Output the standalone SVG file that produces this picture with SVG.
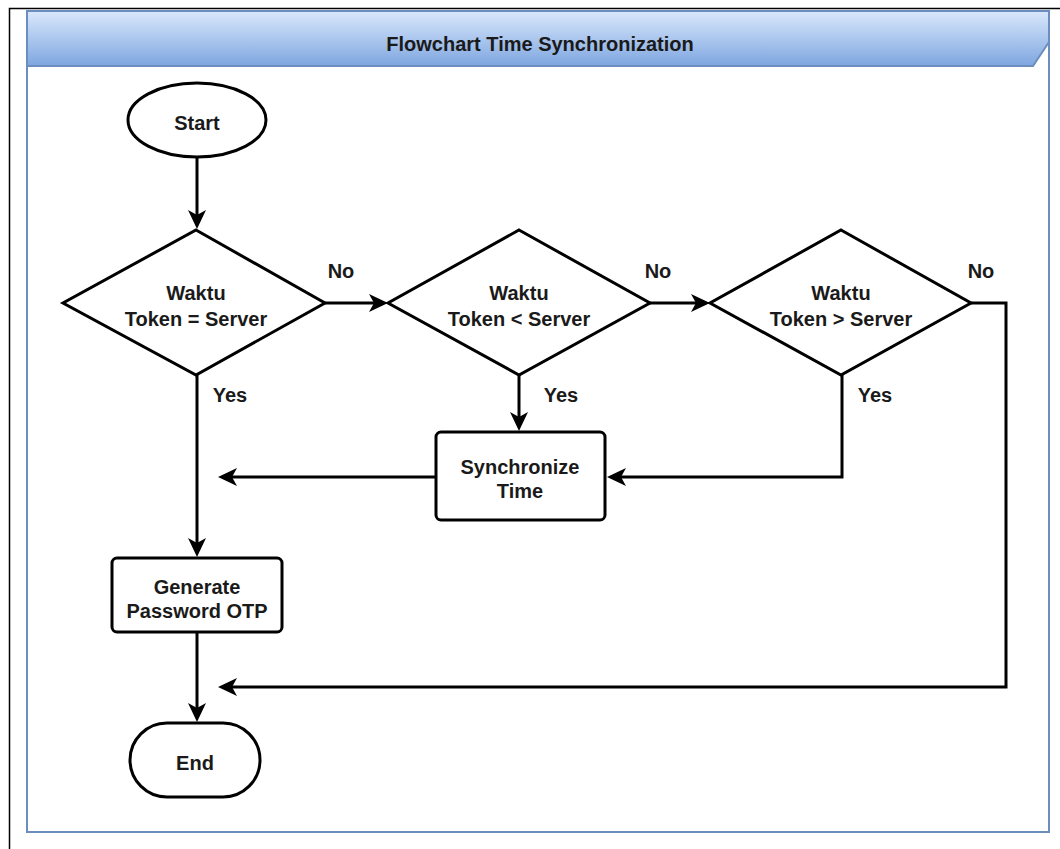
<svg xmlns="http://www.w3.org/2000/svg" width="1060" height="849" viewBox="0 0 1060 849">
  <defs>
    <linearGradient id="headerFill" x1="0" y1="0" x2="0" y2="1">
      <stop offset="0" stop-color="#dae8fc"/>
      <stop offset="1" stop-color="#7ea6e0"/>
    </linearGradient>
    <marker id="arrow" markerUnits="userSpaceOnUse" markerWidth="20" markerHeight="20" viewBox="0 -10 20 20" refX="5" refY="0" orient="auto" overflow="visible">
      <path d="M0,-9 L19,0 L0,9 L5,0 Z" fill="#000"/>
    </marker>
  </defs>
  <style>
    .shape { fill: #ffffff; stroke: #000000; stroke-width: 3; }
    .edge { fill: none; stroke: #000000; stroke-width: 3; marker-end: url(#arrow); }
    .plain { fill: none; stroke: #000000; stroke-width: 3; }
    text { font-family: "Liberation Sans", Arial, sans-serif; font-weight: bold; font-size: 20px; fill: #1a1a1a; text-anchor: middle; }
  </style>

  <rect x="0" y="0" width="1060" height="849" fill="#ffffff"/>
  <!-- page edge -->
  <path d="M9.5,849 L9.5,8.5 L1060,8.5" fill="none" stroke="#000" stroke-width="1.5"/>

  <!-- pool frame with header -->
  <g id="pool">
    <rect x="27" y="11" width="1022" height="821" fill="#ffffff" stroke="#6c8ebf" stroke-width="2"/>
    <path d="M27,11 L1049,11 L1049,42 L1033,66 L27,66 Z" fill="url(#headerFill)" stroke="#6c8ebf" stroke-width="2"/>
    <text x="540" y="51">Flowchart Time Synchronization</text>
  </g>

  <!-- connectors -->
  <g id="connectors">
    <path class="edge" d="M197,157 L197,215"/>
    <path class="edge" d="M325,303 L374,303"/>
    <path class="edge" d="M650,303 L696,303"/>
    <path class="edge" d="M971,303 L1006,303 L1006,687 L232,687"/>
    <path class="edge" d="M197,375 L197,543"/>
    <path class="edge" d="M519,375 L519,417"/>
    <path class="edge" d="M842,375 L842,477 L621,477"/>
    <path class="edge" d="M435,477 L232,477"/>
    <path class="edge" d="M197,632 L197,708"/>
    <text x="341" y="278">No</text>
    <text x="658" y="278">No</text>
    <text x="981" y="278">No</text>
    <text x="230" y="402">Yes</text>
    <text x="561" y="402">Yes</text>
    <text x="875" y="402">Yes</text>
  </g>

  <g id="start">
    <ellipse class="shape" cx="197" cy="120" rx="69" ry="37"/>
    <text x="197" y="130">Start</text>
  </g>

  <g id="check-equal">
    <path class="shape" d="M196,230 L325,303 L196,375 L63,303 Z"/>
    <text x="196" y="300">Waktu</text>
    <text x="196" y="326">Token = Server</text>
  </g>

  <g id="check-less">
    <path class="shape" d="M519,230 L650,303 L519,375 L388,303 Z"/>
    <text x="519" y="300">Waktu</text>
    <text x="519" y="326">Token &lt; Server</text>
  </g>

  <g id="check-greater">
    <path class="shape" d="M841,230 L971,303 L841,375 L710,303 Z"/>
    <text x="841" y="300">Waktu</text>
    <text x="841" y="326">Token &gt; Server</text>
  </g>

  <g id="sync-time">
    <rect class="shape" x="436" y="432" width="169" height="88" rx="5"/>
    <text x="520" y="474">Synchronize</text>
    <text x="520" y="498">Time</text>
  </g>

  <g id="generate-otp">
    <rect class="shape" x="112" y="558" width="170" height="74" rx="5"/>
    <text x="197" y="594">Generate</text>
    <text x="197" y="618">Password OTP</text>
  </g>

  <g id="end">
    <rect class="shape" x="130" y="723" width="130" height="74" rx="37" ry="37"/>
    <text x="195" y="770">End</text>
  </g>
</svg>
